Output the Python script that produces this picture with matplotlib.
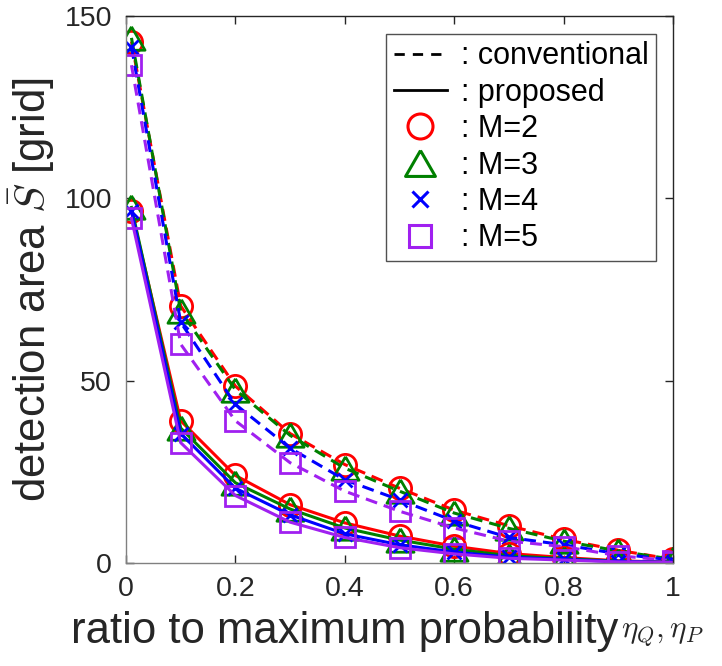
import matplotlib
matplotlib.use("Agg")
import matplotlib.pyplot as plt
from matplotlib.lines import Line2D

x = [0.01, 0.1, 0.2, 0.3, 0.4, 0.5, 0.6, 0.7, 0.8, 0.9, 1.0]

conv_M2 = [143, 70.5, 48.5, 35.5, 27, 20.5, 14.5, 10.2, 6.5, 3.5, 1.0]
conv_M3 = [144, 69, 47.5, 35, 26, 19.7, 13.7, 9.5, 6, 3.3, 1.0]
conv_M4 = [141.5, 66, 43.5, 31.5, 22.8, 17.3, 11.5, 7, 5, 2.5, 0.8]
conv_M5 = [136.5, 60, 39, 27.5, 19.7, 14.2, 9.6, 6, 4.5, 2, 0.6]

prop_M2 = [96.5, 39, 24, 16, 11, 7.4, 4.6, 2.6, 1.5, 0.6, 0.2]
prop_M3 = [97.5, 37, 22, 14.8, 9.6, 6.3, 3.8, 2.0, 1.2, 0.5, 0.2]
prop_M4 = [96.5, 35.5, 20.5, 13.2, 8, 5, 3, 1.6, 1.0, 0.4, 0.2]
prop_M5 = [94.5, 33, 18.5, 11.2, 7, 4.2, 2.5, 1.3, 0.8, 0.3, 0.2]

series_labels = [": M=2", ": M=3", ": M=4", ": M=5"]
xticks = [0, 0.2, 0.4, 0.6, 0.8, 1.0]
xticklabels = ["0", "0.2", "0.4", "0.6", "0.8", "1"]
yticks = [0, 50, 100, 150]

colors = ["#FF0000", "#008000", "#0000FF", "#A020F0"]
tri = [(0, 0.433), (-0.5, -0.433), (0.5, -0.433), (0, 0.433)]
markers = ["o", tri, "x", "s"]
msizes = [16, 19.5, 10.5, 14.5]

plt.rcParams['font.family'] = ['Liberation Sans', 'DejaVu Sans']
plt.rcParams['mathtext.fontset'] = 'cm'

fig = plt.figure(figsize=(7.22, 6.66), dpi=100)
ax = fig.add_axes([126/722, 103/666, 547/722, 547/666])

conv = [conv_M2, conv_M3, conv_M4, conv_M5]
prop = [prop_M2, prop_M3, prop_M4, prop_M5]
lw = 2.2
for i in range(4):
    ax.plot(x, conv[i], color=colors[i], lw=lw, linestyle=(0, (3.9, 2.3)),
            marker=markers[i], ms=msizes[i], mfc='none', mew=2.0, mec=colors[i])
for i in range(4):
    ax.plot(x, prop[i], color=colors[i], lw=lw, linestyle='-',
            marker=markers[i], ms=msizes[i], mfc='none', mew=2.0, mec=colors[i])

ax.set_xlim(0, 1)
ax.set_ylim(0, 150)
ax.set_xticks(xticks)
ax.set_xticklabels(xticklabels)
ax.set_yticks(yticks)
ax.tick_params(direction='in', top=True, right=True, length=6, width=1,
               labelsize=20.5, labelcolor='#262626', color='#262626')
ax.tick_params(axis='x', pad=9.5)
ax.tick_params(axis='y', pad=10)
for s in ax.spines.values():
    s.set_color('#262626')
    s.set_linewidth(1.0)
ax.spines['left'].set_color('#808080')
ax.spines['bottom'].set_color('#808080')

ax.set_xlabel("ratio to maximum probability", fontsize=31.5, color='#262626')
ax.xaxis.set_label_coords(0.40, -0.088)
ax.set_ylabel(r"detection area $\bar{S}$ [grid]", fontsize=31.5, color='#262626')
ax.yaxis.set_label_coords(-0.128, 0.5)
fig.text(621/722, 1 - 638/666, r"$\eta_Q,\eta_P$", fontsize=22.5, color='#262626',
         va='baseline', ha='left')

handles = [Line2D([], [], color='black', lw=2, linestyle=(0, (3.7, 2.9))),
           Line2D([], [], color='black', lw=2, linestyle='-')]
leg_ms = [18, 21.5, 12, 15.5]
for i in range(4):
    handles.append(Line2D([], [], linestyle='none', marker=markers[i], ms=leg_ms[i],
                          mfc='none', mew=2.2, mec=colors[i]))
labels = [": conventional", ": proposed"] + series_labels
leg = ax.legend(handles, labels, loc='upper right',
                bbox_to_anchor=((656 - 126) / 547, (563 - 34) / 547),
                fontsize=22, frameon=True, fancybox=False, edgecolor='#262626',
                handlelength=1.75, handletextpad=0.45, labelspacing=0.21,
                borderpad=0.24, borderaxespad=0)
leg.get_frame().set_linewidth(1.0)

fig.savefig("out.png", dpi=100)
